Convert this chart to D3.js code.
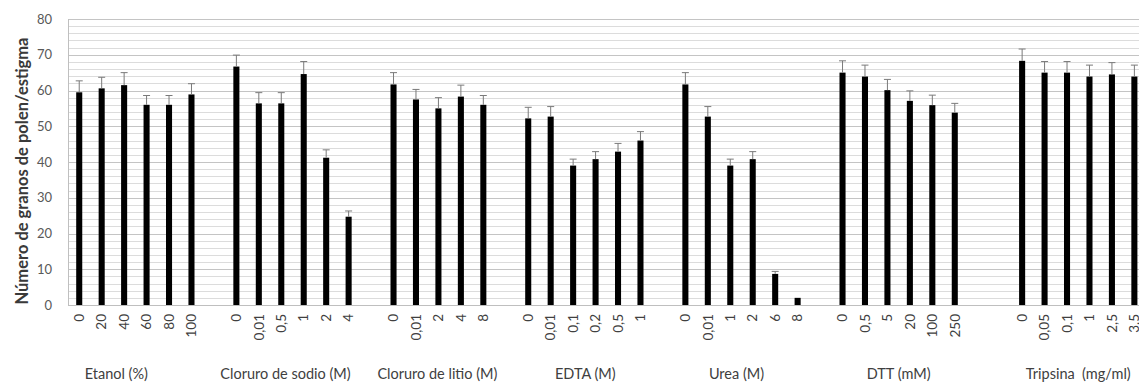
<!DOCTYPE html>
<html>
<head>
<meta charset="utf-8">
<script src="https://cdn.jsdelivr.net/npm/d3@7"></script>
<style>
  html, body { margin: 0; padding: 0; background: #fff; overflow: hidden; }
  svg { display: block; }
  text { font-family: Lato, "Open Sans", sans-serif; }
</style>
</head>
<body>
<svg id="chart" width="1139" height="383"></svg>
<script>
// ---- data ----
const groupNames = ["Etanol (%)", "Cloruro de sodio (M)", "Cloruro de litio (M)", "EDTA (M)", "Urea (M)", "DTT (mM)", "Tripsina  (mg/ml)"];

const etanolLevels = ["0", "20", "40", "60", "80", "100"];
const etanolValues = [59.5, 60.6, 61.5, 56.0, 56.0, 58.9];
const etanolErrors = [3.2, 3.1, 3.5, 2.6, 2.6, 3.0];

const sodioLevels = ["0", "0,01", "0,5", "1", "2", "4"];
const sodioValues = [66.7, 56.4, 56.4, 64.6, 41.2, 24.7];
const sodioErrors = [3.2, 3.0, 3.0, 3.5, 2.2, 1.6];

const litioLevels = ["0", "0,01", "2", "4", "8"];
const litioValues = [61.7, 57.5, 55.0, 58.3, 56.0];
const litioErrors = [3.3, 2.8, 3.0, 3.2, 2.6];

const edtaLevels = ["0", "0,01", "0,1", "0,2", "0,5", "1"];
const edtaValues = [52.2, 52.7, 39.0, 40.8, 42.9, 46.0];
const edtaErrors = [3.1, 2.8, 1.8, 2.1, 2.3, 2.5];

const ureaLevels = ["0", "0,01", "1", "2", "6", "8"];
const ureaValues = [61.7, 52.7, 39.0, 40.8, 8.7, 2.0];
const ureaErrors = [3.3, 2.8, 1.8, 2.1, 0.7, 0];

const dttLevels = ["0", "0,5", "5", "20", "100", "250"];
const dttValues = [65.0, 63.9, 60.1, 57.1, 55.9, 53.8];
const dttErrors = [3.3, 3.2, 3.0, 2.8, 2.8, 2.6];

const tripsinaLevels = ["0", "0,05", "0,1", "1", "2,5", "3,5"];
const tripsinaValues = [68.3, 65.0, 65.0, 63.9, 64.5, 63.9];
const tripsinaErrors = [3.3, 3.1, 3.1, 3.2, 3.3, 3.2];

const yTicks = [0, 10, 20, 30, 40, 50, 60, 70, 80];
const yTitle = "Número de granos de polen/estigma";

// ---- build slot table (blank slots separate groups) ----
const groupLevels = [etanolLevels, sodioLevels, litioLevels, edtaLevels, ureaLevels, dttLevels, tripsinaLevels];
const groupValues = [etanolValues, sodioValues, litioValues, edtaValues, ureaValues, dttValues, tripsinaValues];
const groupErrors = [etanolErrors, sodioErrors, litioErrors, edtaErrors, ureaErrors, dttErrors, tripsinaErrors];
const gapsAfter = [1, 1, 1, 1, 1, 2, 0];

const slots = [];
const bars = [];
const groupSlots = [];
groupNames.forEach((g, gi) => {
  const ids = [];
  groupLevels[gi].forEach((lv, i) => {
    const id = gi + ":" + i;
    slots.push(id);
    ids.push(id);
    bars.push({ id, label: lv, value: groupValues[gi][i], err: groupErrors[gi][i] });
  });
  groupSlots.push(ids);
  for (let k = 0; k < gapsAfter[gi]; k++) slots.push("gap" + gi + "_" + k);
});

// ---- layout ----
const svg = d3.select("#chart");
const step = 22.45;
const left = 68;
const plotTop = 19, plotBottom = 305;

const x = d3.scaleBand().domain(slots).range([left, left + step * slots.length]).paddingInner(0.73).paddingOuter(0.365);
const y = d3.scaleLinear().domain([0, 80]).range([plotBottom, plotTop]);

// gridlines (every 2 units)
const minor = d3.range(0, 81, 2);
svg.append("g").selectAll("line").data(minor).join("line")
  .attr("x1", left).attr("x2", 1139)
  .attr("y1", d => Math.round(y(d)) + 0.5).attr("y2", d => Math.round(y(d)) + 0.5)
  .attr("stroke", d => d % 10 === 0 ? "#c4c4c4" : "#dcdcdc")
  .attr("stroke-width", 1);

// y axis line
svg.append("line").attr("x1", left + 0.5).attr("x2", left + 0.5)
  .attr("y1", y(80)).attr("y2", y(0)).attr("stroke", "#bfbfbf");

// y axis labels
const yAxis = d3.axisLeft(y).tickValues(yTicks).tickSize(0).tickPadding(0);
const ya = svg.append("g").attr("transform", `translate(${left - 16},0)`).call(yAxis);
ya.select(".domain").remove();
ya.selectAll("text").attr("font-size", 13).attr("fill", "#595959")
  .style("font-family", "Lato, sans-serif");

// y title
svg.append("text")
  .attr("transform", `translate(22,171) rotate(-90)`)
  .attr("text-anchor", "middle").attr("dy", "0.35em")
  .attr("font-size", 16.5).attr("font-weight", "bold").attr("fill", "#3a3a3a")
  .text(yTitle);

// bars
const bw = x.bandwidth();
svg.append("g").selectAll("rect").data(bars).join("rect")
  .attr("x", d => x(d.id)).attr("width", bw)
  .attr("y", d => y(d.value)).attr("height", d => y(0) - y(d.value))
  .attr("fill", "#000");

// error bars (upper only)
const eb = svg.append("g").attr("stroke", "#7a7a7a").attr("stroke-width", 1);
bars.filter(d => d.err > 0).forEach(d => {
  const cx = x(d.id) + bw / 2;
  eb.append("line").attr("x1", cx).attr("x2", cx).attr("y1", y(d.value)).attr("y2", y(d.value + d.err));
  eb.append("line").attr("x1", cx - 3.5).attr("x2", cx + 3.5).attr("y1", y(d.value + d.err)).attr("y2", y(d.value + d.err));
});

// x axis line
svg.append("line").attr("x1", left).attr("x2", 1139).attr("y1", y(0) + 0.5).attr("y2", y(0) + 0.5).attr("stroke", "#bfbfbf");

// category tick labels (rotated)
svg.append("g").selectAll("text").data(bars).join("text")
  .attr("transform", d => `translate(${x(d.id) + bw / 2},${plotBottom + 9}) rotate(-90)`)
  .attr("text-anchor", "end").attr("dy", "0.35em")
  .attr("font-size", 13.5).attr("fill", "#404040")
  .text(d => d.label);

// group labels
const nudge = [-19, -7, -1, 1, -5, 0, 0];
svg.append("g").selectAll("text").data(groupNames).join("text")
  .attr("x", (g, gi) => {
    const ids = groupSlots[gi];
    return (x(ids[0]) + x(ids[ids.length - 1]) + bw) / 2 + nudge[gi];
  })
  .attr("y", 379)
  .attr("text-anchor", "middle").attr("font-size", 14.5).attr("fill", "#404040")
  .style("white-space", "pre")
  .text(g => g);
</script>
</body>
</html>
